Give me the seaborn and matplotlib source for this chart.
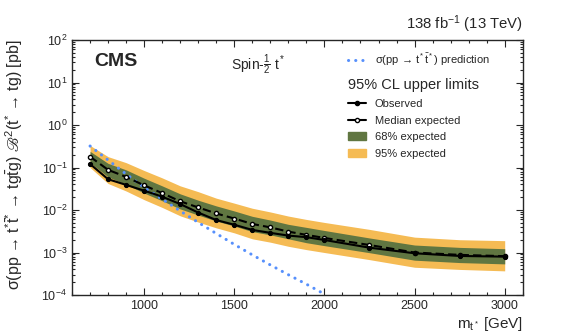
import matplotlib
matplotlib.use("Agg")
import numpy as np
import pandas as pd
import seaborn as sns
import matplotlib.pyplot as plt
from matplotlib.lines import Line2D
from matplotlib.patches import Patch
from matplotlib.ticker import LogLocator, MultipleLocator, NullFormatter

# Данные: массы t* и пределы на сечение (pb)
mass = [700, 800, 900, 1000, 1100, 1200, 1300, 1400, 1500, 1600, 1700, 1800,
        1900, 2000, 2250, 2500, 2750, 3000]
observed = [0.121, 0.053, 0.039, 0.0285, 0.0206, 0.0138, 0.0087, 0.0058, 0.0045,
            0.0034, 0.0029, 0.0025, 0.0023, 0.00197, 0.0013, 0.00096, 0.00083, 0.00080]
expected = [0.18, 0.088, 0.060, 0.038, 0.025, 0.016, 0.0115, 0.0083, 0.0063, 0.0047,
            0.0039, 0.0031, 0.0026, 0.0022, 0.0015, 0.0010, 0.00088, 0.00082]
up1 = [0.24, 0.125, 0.088, 0.056, 0.037, 0.024, 0.017, 0.0125, 0.0095, 0.0071,
       0.0058, 0.0046, 0.0039, 0.0033, 0.0022, 0.0015, 0.00132, 0.00123]
dn1 = [0.13, 0.060, 0.040, 0.025, 0.0165, 0.0106, 0.0076, 0.0055, 0.0042, 0.0031,
       0.0026, 0.0021, 0.0017, 0.00145, 0.00099, 0.00066, 0.00058, 0.00054]
up2 = [0.33, 0.18, 0.13, 0.085, 0.057, 0.037, 0.027, 0.019, 0.0145, 0.011,
       0.0090, 0.0072, 0.0060, 0.0051, 0.0035, 0.0023, 0.0020, 0.0019]
dn2 = [0.10, 0.042, 0.028, 0.0175, 0.0115, 0.0073, 0.0052, 0.0038, 0.0029, 0.0021,
       0.00175, 0.0014, 0.00117, 0.0010, 0.00068, 0.00045, 0.0004, 0.00037]

# Теоретическое предсказание
theory_mass = [700, 800, 900, 1000, 1100, 1200, 1300, 1400, 1500, 1600, 1700, 1800, 1900, 2000]
theory_xsec = [0.32, 0.15, 0.07, 0.034, 0.018, 0.0095, 0.0051, 0.0028, 0.00155,
               0.00088, 0.00051, 0.0003, 0.00018, 0.000105]

sns.set_style("ticks")
plt.rcParams['font.family'] = ['Liberation Sans', 'DejaVu Sans']
plt.rcParams['mathtext.fontset'] = 'custom'
plt.rcParams['mathtext.rm'] = 'Liberation Sans'
plt.rcParams['mathtext.it'] = 'Liberation Sans:italic'
plt.rcParams['mathtext.bf'] = 'Liberation Sans:bold'
plt.rcParams['mathtext.fallback'] = 'stix'

green = "#607641"
orange = "#F5BB54"
blue = "#5790FC"
dots = (0, (0.05, 2.3))

df = pd.DataFrame({"mass": mass, "Observed": observed, "Expected": expected})
df_th = pd.DataFrame({"mass": theory_mass, "xsec": theory_xsec})

fig = plt.figure(figsize=(5.81, 3.32), dpi=100)
ax = fig.add_axes([0.124, 0.1114, 0.7757, 0.7681])

ax.fill_between(mass, dn2, up2, color=orange, lw=0)
ax.fill_between(mass, dn1, up1, color=green, lw=0)
sns.lineplot(data=df_th, x="mass", y="xsec", ax=ax, color=blue, lw=2.2,
             linestyle=dots, dash_capstyle="round")
sns.lineplot(data=df, x="mass", y="Expected", ax=ax, color="black", lw=1.5,
             linestyle=(0, (4, 2)), marker="o", markersize=3,
             markerfacecolor="white", markeredgecolor="black", markeredgewidth=1)
sns.lineplot(data=df, x="mass", y="Observed", ax=ax, color="black", lw=1.5,
             marker="o", markersize=3, markeredgecolor="black")

ax.set_yscale("log")
ax.set_ylim(1e-4, 1e2)
ax.set_xlim(600, 3100)
ax.xaxis.set_major_locator(MultipleLocator(500))
ax.xaxis.set_minor_locator(MultipleLocator(100))
ax.yaxis.set_major_locator(LogLocator(base=10, numticks=20))
ax.yaxis.set_minor_locator(LogLocator(base=10, subs=np.arange(2, 10), numticks=20))
ax.yaxis.set_minor_formatter(NullFormatter())
ax.set_xticks([1000, 1500, 2000, 2500, 3000])
ax.tick_params(which="both", direction="in", top=True, right=True, labelsize=9, width=0.8)
ax.tick_params(which="major", length=5)
ax.tick_params(which="minor", length=2.5)
for s in ax.spines.values():
    s.set_linewidth(1.0)

ax.set_xlabel(r"m$_{\mathrm{t}^*}$ [GeV]", fontsize=11, loc="right")
ax.xaxis.set_label_coords(1.0, -0.078)
ax.set_ylabel(r"σ(pp → t$^{*}\bar{\mathrm{t}}^{*}$ → tg$\bar{\mathrm{t}}$g) $ℬ^2$(t$^{*}$ → tg) [pb]",
              fontsize=11.5, loc="top")
ax.yaxis.set_label_coords(-0.105, 1.0)

ax.text(0.05, 0.95, "CMS", transform=ax.transAxes, fontsize=14, fontweight="bold",
        va="top", ha="left")
ax.text(0.352, 0.95, r"Spin-$\frac{1}{2}$ t$^*$", transform=ax.transAxes, fontsize=10,
        va="top", ha="left")
ax.text(1.0, 1.02, r"138 fb$^{-1}$ (13 TeV)", transform=ax.transAxes, fontsize=10.7,
        va="bottom", ha="right")

h_th = [Line2D([], [], color=blue, lw=2.2, linestyle=dots, dash_capstyle="round")]
leg1 = ax.legend(h_th, [r"σ(pp → t$^*\bar{\mathrm{t}}^*$) prediction"], loc="upper left",
                 bbox_to_anchor=(0.612, 0.955), frameon=False, fontsize=8,
                 handlelength=1.6, handletextpad=0.8, borderaxespad=0, borderpad=0)
ax.add_artist(leg1)

handles = [Line2D([], [], color="black", lw=1.5, marker="o", markersize=3),
           Line2D([], [], color="black", lw=1.5, marker="o", markersize=3,
                  markerfacecolor="white"),
           Patch(color=green), Patch(color=orange)]
labels = ["Observed", "Median expected", "68% expected", "95% expected"]
leg2 = ax.legend(handles, labels, loc="upper left", bbox_to_anchor=(0.612, 0.85),
                 frameon=False, fontsize=8, title="95% CL upper limits",
                 title_fontsize=10.5, handlelength=1.6, handletextpad=0.8,
                 labelspacing=0.6, borderaxespad=0, borderpad=0)
leg2._legend_box.align = "left"

fig.savefig("out.png", dpi=100)
